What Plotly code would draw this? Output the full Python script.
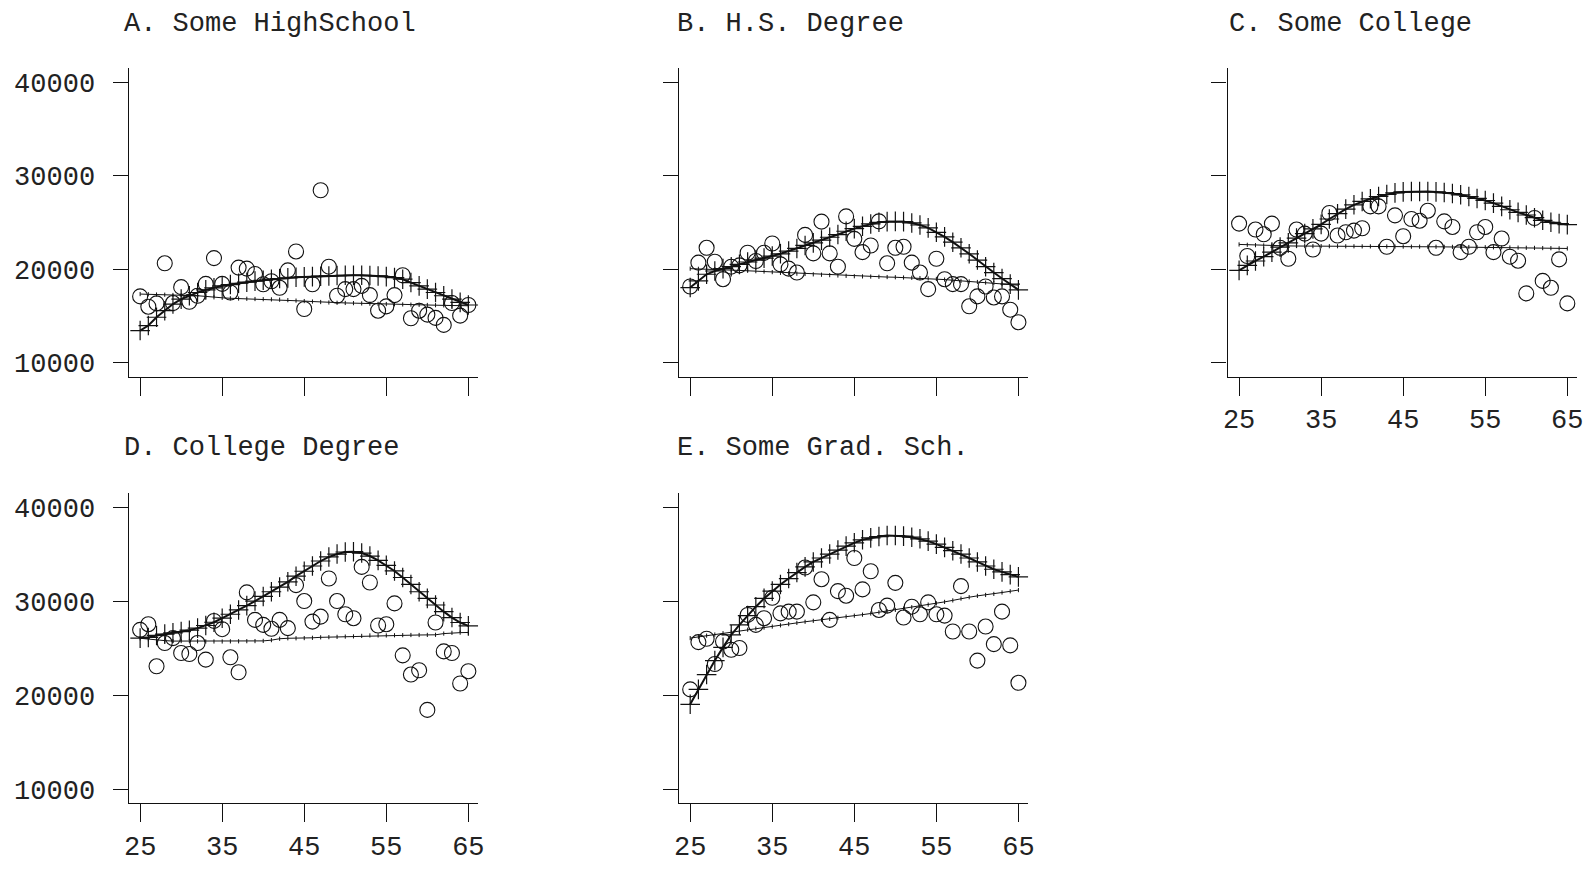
import plotly.graph_objects as go

ages = list(range(25, 66))

titles = ["A. Some HighSchool", "B. H.S. Degree", "C. Some College",
          "D. College Degree", "E. Some Grad. Sch."]

x_ticks = [25, 35, 45, 55, 65]
y_ticks = [10000, 20000, 30000, 40000]
y_tick_text = ["10000", "20000", "30000", "40000"]

A_obs = [17100, 16000, 16350, 20640, 16390, 18090, 16530, 17170, 18440, 21200, 18440, 17520, 20180, 20070,
         19500, 18400, 18720, 18020, 19890, 21910, 15750, 18400, 28460, 20280, 17170, 17880, 17880, 18230,
         17240, 15570, 16030, 17240, 19360, 14760, 15570, 15150, 14800, 14050, 16390, 15040, 16180]
A_fit = [13450, 13980, 14870, 15570, 16280, 16810, 17170, 17520, 17800, 18020, 18230, 18370, 18510, 18620,
         18730, 18830, 18940, 19010, 19080, 19150, 19190, 19220, 19260, 19290, 19330, 19360, 19360, 19360,
         19330, 19290, 19220, 19120, 18940, 18580, 18230, 17880, 17520, 17170, 16810, 16460, 16180]
A_lin = [17350, 17330, 17300, 17280, 17250, 17220, 17200, 17170, 17100, 17000, 16950, 16900, 16870, 16850,
         16820, 16800, 16780, 16750, 16700, 16650, 16600, 16550, 16500, 16450, 16420, 16400, 16380, 16350,
         16320, 16300, 16280, 16260, 16240, 16220, 16200, 16180, 16160, 16140, 16120, 16110, 16100]

B_obs = [18160, 20710, 22300, 20810, 18940, 20280, 20420, 21770, 20890, 21770, 22760, 20530, 20070, 19650,
         23680, 21700, 25100, 21700, 20280, 25660, 23260, 21840, 22550, 25130, 20640, 22300, 22410, 20710,
         19650, 17880, 21130, 18940, 18410, 18410, 16040, 17100, 18160, 16990, 17100, 15680, 14340]
B_fit = [18050, 18760, 19470, 19820, 20070, 20280, 20530, 20780, 20990, 21200, 21420, 21660, 21950, 22230,
         22550, 22830, 23120, 23430, 23720, 24070, 24350, 24600, 24850, 25030, 25100, 25130, 25100, 24960,
         24740, 24430, 23960, 23470, 22900, 22300, 21660, 20990, 20280, 19650, 19010, 18410, 17800]
B_lin = [20070, 20050, 20030, 20000, 19970, 19930, 19880, 19840, 19800, 19760, 19700, 19620, 19570, 19530,
         19500, 19460, 19420, 19380, 19340, 19300, 19260, 19240, 19220, 19200, 19170, 19150, 19120, 19090,
         19060, 19020, 18970, 18900, 18830, 18760, 18700, 18640, 18580, 18520, 18450, 18380, 18300]

C_obs = [24890, 21420, 24250, 23750, 24890, 22300, 21130, 24250, 23820, 22120, 23820, 26020, 23610, 23960,
         24140, 24390, 26730, 26730, 22410, 25770, 23540, 25380, 25200, 26270, 22300, 25130, 24530, 21840,
         22410, 23960, 24530, 21840, 23290, 21350, 20920, 17420, 25490, 18760, 18020, 21060, 16350]
C_fit = [19890, 20420, 20890, 21350, 21840, 22370, 22830, 23330, 23820, 24320, 24810, 25380, 25950, 26440,
         26900, 27260, 27540, 27790, 28000, 28180, 28280, 28320, 28320, 28320, 28280, 28210, 28110, 27970,
         27790, 27580, 27360, 27080, 26730, 26370, 26090, 25810, 25520, 25240, 25030, 24890, 24780]
C_lin = [22660, 22620, 22580, 22550, 22530, 22510, 22500, 22490, 22480, 22480, 22480, 22470, 22470, 22460,
         22460, 22450, 22450, 22440, 22440, 22430, 22430, 22420, 22420, 22410, 22410, 22400, 22400, 22390,
         22380, 22370, 22360, 22350, 22340, 22330, 22320, 22300, 22290, 22270, 22260, 22240, 22230]

D_obs = [27000, 27600, 23110, 25590, 26120, 24530, 24420, 25590, 23820, 27950, 27070, 24070, 22480, 30990,
         28060, 27530, 27110, 28060, 27180, 31770, 30070, 27880, 28410, 32470, 30070, 28660, 28240, 33710,
         32050, 27460, 27600, 29820, 24280, 22230, 22690, 18460, 27780, 24700, 24530, 21280, 22590]
D_fit = [26120, 26190, 26400, 26540, 26680, 26820, 26960, 27180, 27460, 27810, 28240, 28660, 29120, 29580,
         30070, 30560, 31060, 31550, 32120, 32720, 33250, 33810, 34340, 34770, 35080, 35300, 35330, 35190,
         34870, 34410, 33880, 33280, 32580, 31840, 31060, 30350, 29650, 28940, 28310, 27780, 27420]
D_lin = [26100, 26000, 25900, 25850, 25800, 25800, 25800, 25780, 25760, 25760, 25760, 25770, 25780, 25790,
         25800, 25820, 25900, 26050, 26100, 26100, 26120, 26150, 26200, 26220, 26250, 26280, 26300, 26350,
         26400, 26400, 26400, 26420, 26430, 26450, 26450, 26460, 26470, 26600, 26680, 26700, 26720]

E_obs = [20650, 25690, 26050, 23360, 25760, 24880, 25060, 28590, 27530, 28240, 30420, 28760, 28940, 28940,
         33640, 29930, 32400, 28060, 31130, 30640, 34660, 31310, 33250, 29120, 29580, 32010, 28310, 29470,
         28660, 29930, 28660, 28520, 26820, 31660, 26820, 23720, 27350, 25480, 28940, 25340, 21350]
E_fit = [19060, 20650, 22230, 23720, 25130, 26470, 27530, 28520, 29470, 30350, 31130, 31840, 32470, 33110,
         33710, 34240, 34660, 35080, 35510, 35930, 36280, 36600, 36810, 36950, 37060, 37060, 36990, 36880,
         36710, 36460, 36140, 35790, 35440, 35080, 34660, 34240, 33810, 33460, 33180, 32890, 32650]
E_lin = [26120, 26250, 26380, 26500, 26640, 26770, 26890, 27010, 27130, 27240, 27350, 27480, 27610, 27740,
         27860, 27960, 28070, 28170, 28290, 28410, 28510, 28620, 28740, 28870, 29000, 29130, 29270, 29410,
         29550, 29690, 29830, 29980, 30140, 30330, 30480, 30620, 30720, 30830, 30980, 31110, 31240]

panels = [(A_obs, A_fit, A_lin), (B_obs, B_fit, B_lin), (C_obs, C_fit, C_lin),
          (D_obs, D_fit, D_lin), (E_obs, E_fit, E_lin)]

W, H = 1592, 872
FONT = "Liberation Mono"
INK = "#111111"
TXT = "#222222"

# panel geometry in pixels
col_left = [124.5, 678.4, 1231.1]
row_top = [68, 495]
row_bot = [378, 806]
panel_w = 352
title_y = [24, 450]
title_x = [118, 675, 1230]
grid = [(0, 0), (0, 1), (0, 2), (1, 0), (1, 1)]
show_x_labels = [False, False, True, True, True]
show_y_labels = [True, False, False, True, False]

fig = go.Figure()
layout = dict(width=W, height=H, margin=dict(l=0, r=0, t=0, b=0),
              plot_bgcolor="white", paper_bgcolor="white", showlegend=False,
              font=dict(family=FONT, size=27, color=TXT))
annotations = []

for i, ((obs, fit, lin), (r, c)) in enumerate(zip(panels, grid)):
    n = "" if i == 0 else str(i + 1)
    xa, ya = "x" + n, "y" + n
    fig.add_trace(go.Scatter(x=ages, y=lin, mode="lines+markers", xaxis=xa, yaxis=ya,
                             line=dict(color=INK, width=1),
                             marker=dict(symbol="line-ns-open", size=3, color=INK,
                                         line=dict(color=INK, width=1))))
    fig.add_trace(go.Scatter(x=ages, y=fit, mode="lines+markers", xaxis=xa, yaxis=ya,
                             line=dict(color=INK, width=2),
                             marker=dict(symbol="cross-thin-open", size=14, color=INK,
                                         line=dict(color=INK, width=1.2))))
    fig.add_trace(go.Scatter(x=ages, y=obs, mode="markers", xaxis=xa, yaxis=ya,
                             marker=dict(symbol="circle-open", size=15, color=INK,
                                         line=dict(color=INK, width=1.1))))
    x0 = col_left[c] / W
    x1 = (col_left[c] + panel_w) / W
    y0 = 1 - row_bot[r] / H
    y1 = 1 - row_top[r] / H
    layout["xaxis" + n] = dict(domain=[x0, x1], range=[23.6, 66.2], anchor=ya,
                               tickmode="array", tickvals=x_ticks,
                               showticklabels=show_x_labels[i],
                               ticks="outside", ticklen=18, tickwidth=1.2, tickcolor=INK,
                               showline=True, linecolor=INK, linewidth=1.2,
                               showgrid=False, zeroline=False, ticklabelstandoff=0,
                               tickfont=dict(family=FONT, size=27, color=TXT))
    layout["yaxis" + n] = dict(domain=[y0, y1], range=[8510, 41560], anchor=xa,
                               tickmode="array", tickvals=y_ticks, ticktext=y_tick_text,
                               showticklabels=show_y_labels[i],
                               ticks="outside", ticklen=15, tickwidth=1.2, tickcolor=INK,
                               showline=True, linecolor=INK, linewidth=1.2,
                               showgrid=False, zeroline=False, ticklabelstandoff=12,
                               tickfont=dict(family=FONT, size=27, color=TXT))
    annotations.append(dict(text=titles[i], xref="paper", yref="paper",
                            x=title_x[c] / W, y=1 - title_y[r] / H,
                            xanchor="left", yanchor="middle", showarrow=False,
                            font=dict(family=FONT, size=27, color=TXT)))

layout["annotations"] = annotations
fig.update_layout(**layout)

fig.write_html("out.html", config={"displayModeBar": False},
               post_script="document.body.style.margin='0';document.body.style.overflow='hidden';")
